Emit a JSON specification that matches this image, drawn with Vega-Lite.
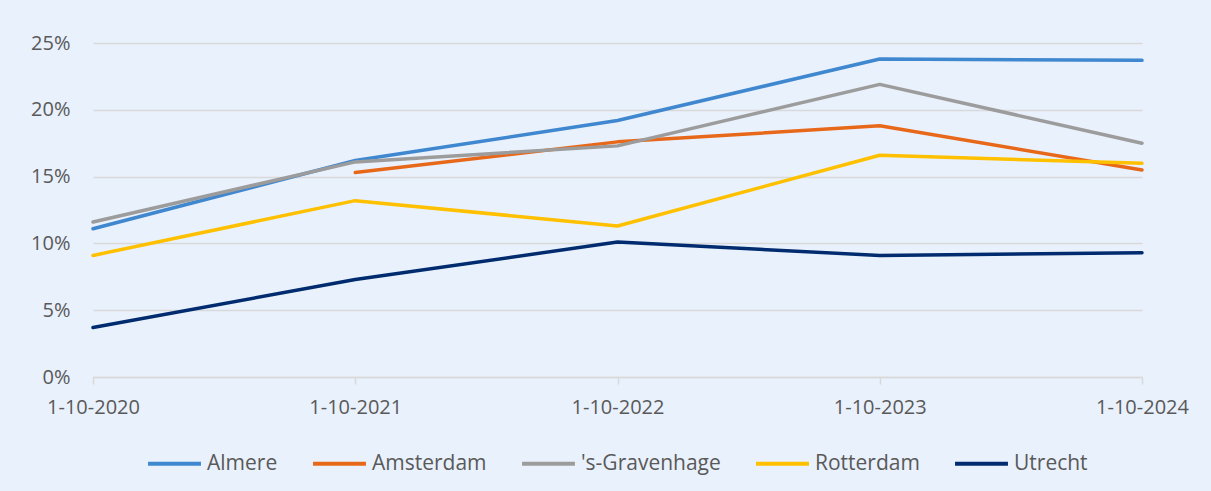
{
  "$schema": "https://vega.github.io/schema/vega-lite/v6.json",
  "autosize": "none",
  "width": 1049,
  "height": 334,
  "padding": {"left": 93, "top": 43, "right": 69, "bottom": 114},
  "background": "#E9F1FC",
  "config": {
    "view": {"stroke": null},
    "font": "Open Sans"
  },
  "data": {
    "values": [
      {"datum": "1-10-2020", "gemeente": "Almere", "waarde": 0.111},
      {"datum": "1-10-2021", "gemeente": "Almere", "waarde": 0.162},
      {"datum": "1-10-2022", "gemeente": "Almere", "waarde": 0.192},
      {"datum": "1-10-2023", "gemeente": "Almere", "waarde": 0.238},
      {"datum": "1-10-2024", "gemeente": "Almere", "waarde": 0.237},
      {"datum": "1-10-2021", "gemeente": "Amsterdam", "waarde": 0.153},
      {"datum": "1-10-2022", "gemeente": "Amsterdam", "waarde": 0.176},
      {"datum": "1-10-2023", "gemeente": "Amsterdam", "waarde": 0.188},
      {"datum": "1-10-2024", "gemeente": "Amsterdam", "waarde": 0.155},
      {"datum": "1-10-2020", "gemeente": "'s-Gravenhage", "waarde": 0.116},
      {"datum": "1-10-2021", "gemeente": "'s-Gravenhage", "waarde": 0.161},
      {"datum": "1-10-2022", "gemeente": "'s-Gravenhage", "waarde": 0.173},
      {"datum": "1-10-2023", "gemeente": "'s-Gravenhage", "waarde": 0.219},
      {"datum": "1-10-2024", "gemeente": "'s-Gravenhage", "waarde": 0.175},
      {"datum": "1-10-2020", "gemeente": "Rotterdam", "waarde": 0.091},
      {"datum": "1-10-2021", "gemeente": "Rotterdam", "waarde": 0.132},
      {"datum": "1-10-2022", "gemeente": "Rotterdam", "waarde": 0.113},
      {"datum": "1-10-2023", "gemeente": "Rotterdam", "waarde": 0.166},
      {"datum": "1-10-2024", "gemeente": "Rotterdam", "waarde": 0.160},
      {"datum": "1-10-2020", "gemeente": "Utrecht", "waarde": 0.037},
      {"datum": "1-10-2021", "gemeente": "Utrecht", "waarde": 0.073},
      {"datum": "1-10-2022", "gemeente": "Utrecht", "waarde": 0.101},
      {"datum": "1-10-2023", "gemeente": "Utrecht", "waarde": 0.091},
      {"datum": "1-10-2024", "gemeente": "Utrecht", "waarde": 0.093}
    ]
  },
  "mark": {"type": "line", "strokeWidth": 3.5, "strokeCap": "round", "strokeJoin": "round"},
  "encoding": {
    "x": {
      "field": "datum",
      "type": "ordinal",
      "scale": {"type": "point", "padding": 0},
      "axis": {
        "title": null,
        "labelAngle": 0,
        "labelFontSize": 20,
        "labelColor": "#595959",
        "labelPadding": 13,
        "domainColor": "#D9D9D9",
        "domainWidth": 1.5,
        "tickColor": "#D9D9D9",
        "tickWidth": 1.5,
        "tickSize": 7,
        "grid": false
      }
    },
    "y": {
      "field": "waarde",
      "type": "quantitative",
      "scale": {"domain": [0, 0.25]},
      "axis": {
        "title": null,
        "format": ".0%",
        "values": [0, 0.05, 0.1, 0.15, 0.2, 0.25],
        "labelFontSize": 20,
        "labelColor": "#595959",
        "labelPadding": 23,
        "domain": false,
        "ticks": false,
        "gridColor": "#D9D9D9",
        "gridWidth": 1.5
      }
    },
    "color": {
      "field": "gemeente",
      "type": "nominal",
      "scale": {
        "domain": ["Almere", "Amsterdam", "'s-Gravenhage", "Rotterdam", "Utrecht"],
        "range": ["#3F87CF", "#E8681A", "#9C9C9C", "#FFC000", "#002B6E"]
      },
      "legend": {
        "title": null,
        "orient": "none",
        "direction": "horizontal",
        "legendX": 53,
        "legendY": 392,
        "symbolType": "stroke",
        "symbolSize": 2800,
        "symbolStrokeWidth": 4,
        "labelFontSize": 21,
        "labelColor": "#595959",
        "labelOffset": 4,
        "columnPadding": 27
      }
    }
  }
}
